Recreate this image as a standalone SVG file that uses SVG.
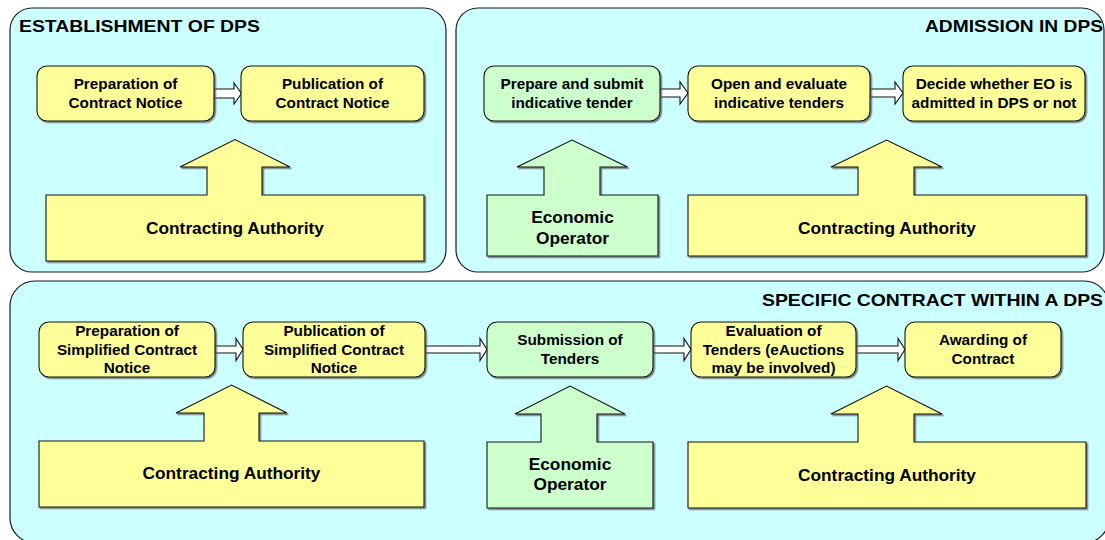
<svg xmlns="http://www.w3.org/2000/svg" width="1105" height="540" viewBox="0 0 1105 540">
<defs>
<filter id="sh" x="-5%" y="-5%" width="115%" height="120%">
<feDropShadow dx="1.5" dy="1.5" stdDeviation="0.4" flood-color="#5a5a5a" flood-opacity="0.8"/>
</filter>
</defs>
<style>
.panel{fill:#CCFFFF;stroke:#1a1a1a;stroke-width:1.2}
.y{fill:#FFFF99;stroke:#111;stroke-width:1.1;filter:url(#sh)}
.g{fill:#CCFFCC;stroke:#111;stroke-width:1.1;filter:url(#sh)}
.arr{fill:#FFFFFF;stroke:#111;stroke-width:1.1}
.t{font-family:"Liberation Sans",Arial,sans-serif;font-weight:bold;fill:#000;text-anchor:middle}
.s{font-size:15.3px}
.b{font-size:17.3px}
.h{font-family:"Liberation Sans",Arial,sans-serif;font-weight:bold;fill:#000;font-size:17px}
</style>
<rect width="1105" height="540" fill="#FFFFFF"/>

<g id="panel-establishment">
<rect class="panel" x="10" y="8" width="436" height="264" rx="22"/>
<text class="h" x="19" y="32" textLength="241" lengthAdjust="spacingAndGlyphs">ESTABLISHMENT OF DPS</text>
</g>
<g id="panel-admission">
<rect class="panel" x="456" y="8" width="648" height="264" rx="22"/>
<text class="h" x="925" y="32" textLength="178" lengthAdjust="spacingAndGlyphs">ADMISSION IN DPS</text>
</g>
<g id="panel-specific">
<rect class="panel" x="10" y="281" width="1099" height="262" rx="25"/>
<text class="h" x="762" y="306" textLength="341" lengthAdjust="spacingAndGlyphs">SPECIFIC CONTRACT WITHIN A DPS</text>
</g>

<g id="connectors">
<polygon class="arr" points="214,89 234,89 234,83 241.5,93.5 234,104 234,98 214,98"/>
<polygon class="arr" points="660,89 680,89 680,82 688,93 680,104 680,97 660,97"/>
<polygon class="arr" points="870,89 895,89 895,82 903,93 895,104 895,97 870,97"/>
<polygon class="arr" points="215,346 236,346 236,338.5 243,349.5 236,360.5 236,353 215,353"/>
<polygon class="arr" points="425,346 480,346 480,338.5 487,349.5 480,360.5 480,353 425,353"/>
<polygon class="arr" points="653,346 684,346 684,338.5 691,349.5 684,360.5 684,353 653,353"/>
<polygon class="arr" points="856,346 898,346 898,338.5 905,349.5 898,360.5 898,353 856,353"/>
</g>

<g id="prep-contract-notice">
<rect class="y" x="37" y="66" width="177" height="55" rx="10"/>
<text class="t s" x="125.5" y="89">Preparation of</text>
<text class="t s" x="125.5" y="108">Contract Notice</text>
</g>
<g id="pub-contract-notice">
<rect class="y" x="241" y="66" width="183" height="55" rx="10"/>
<text class="t s" x="332.5" y="89">Publication of</text>
<text class="t s" x="332.5" y="108">Contract Notice</text>
</g>
<g id="ca-1">
<path class="y" d="M46,195 H207 V167 H180 L235,139.5 L290,167 H262 V195 H424 V261 H46 Z"/>
<text class="t b" x="235" y="234">Contracting Authority</text>
</g>

<g id="prepare-submit">
<rect class="g" x="484" y="66" width="176" height="55" rx="10"/>
<text class="t s" x="572" y="89">Prepare and submit</text>
<text class="t s" x="572" y="108">indicative tender</text>
</g>
<g id="open-evaluate">
<rect class="y" x="688" y="66" width="182" height="55" rx="10"/>
<text class="t s" x="779" y="89">Open and evaluate</text>
<text class="t s" x="779" y="108">indicative tenders</text>
</g>
<g id="decide">
<rect class="y" x="903" y="66" width="182" height="55" rx="10"/>
<text class="t s" x="994" y="89">Decide whether EO is</text>
<text class="t s" x="994" y="108">admitted in DPS or not</text>
</g>
<g id="eo-2">
<path class="g" d="M487,195 H544 V167 H517 L572,140 L627.5,167 H600 V195 H658 V256 H487 Z"/>
<text class="t b" x="572.5" y="223">Economic</text>
<text class="t b" x="572.5" y="244">Operator</text>
</g>
<g id="ca-2">
<path class="y" d="M688,195 H858 V167 H831 L886.5,140 L942,167 H914 V195 H1086 V256 H688 Z"/>
<text class="t b" x="887" y="234">Contracting Authority</text>
</g>

<g id="prep-simplified">
<rect class="y" x="39" y="322" width="176" height="55" rx="10"/>
<text class="t s" x="127" y="336">Preparation of</text>
<text class="t s" x="127" y="354.5">Simplified Contract</text>
<text class="t s" x="127" y="373">Notice</text>
</g>
<g id="pub-simplified">
<rect class="y" x="243" y="322" width="182" height="55" rx="10"/>
<text class="t s" x="334" y="336">Publication of</text>
<text class="t s" x="334" y="354.5">Simplified Contract</text>
<text class="t s" x="334" y="373">Notice</text>
</g>
<g id="submission">
<rect class="g" x="487" y="322" width="166" height="55" rx="10"/>
<text class="t s" x="570" y="345">Submission of</text>
<text class="t s" x="570" y="363.5">Tenders</text>
</g>
<g id="evaluation">
<rect class="y" x="691" y="322" width="165" height="55" rx="10"/>
<text class="t s" x="773.5" y="336">Evaluation of</text>
<text class="t s" x="773.5" y="354.5">Tenders (eAuctions</text>
<text class="t s" x="773.5" y="373">may be involved)</text>
</g>
<g id="awarding">
<rect class="y" x="905" y="322" width="156" height="55" rx="10"/>
<text class="t s" x="983" y="345">Awarding of</text>
<text class="t s" x="983" y="363.5">Contract</text>
</g>
<g id="ca-3">
<path class="y" d="M39,441 H204 V413 H176 L231.5,385 L287,413 H259 V441 H424 V507 H39 Z"/>
<text class="t b" x="231.5" y="479">Contracting Authority</text>
</g>
<g id="eo-3">
<path class="g" d="M487,442 H541 V414 H515 L570,386 L625,414 H597 V442 H653 V508 H487 Z"/>
<text class="t b" x="570" y="470">Economic</text>
<text class="t b" x="570" y="490">Operator</text>
</g>
<g id="ca-4">
<path class="y" d="M688,442 H858 V414 H831 L886.5,386 L942,414 H914 V442 H1086 V508 H688 Z"/>
<text class="t b" x="887" y="481">Contracting Authority</text>
</g>
</svg>
